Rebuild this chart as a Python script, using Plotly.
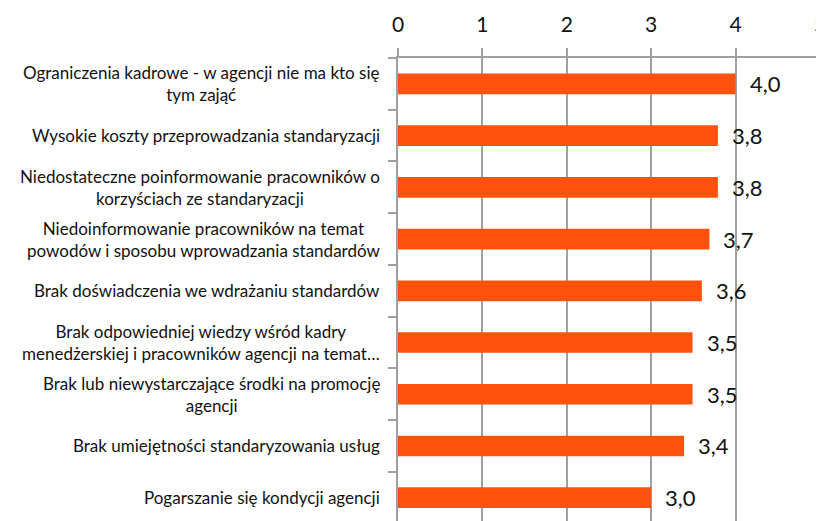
import plotly.graph_objects as go

# Bariery standaryzacji - srednie oceny
categories = [
    "Ograniczenia kadrowe - w agencji nie ma kto się<br>tym zająć",
    "Wysokie koszty przeprowadzania standaryzacji",
    "Niedostateczne poinformowanie pracowników o<br>korzyściach ze standaryzacji",
    "Niedoinformowanie pracowników na temat<br>powodów i sposobu wprowadzania standardów",
    "Brak doświadczenia we wdrażaniu standardów",
    "Brak odpowiedniej wiedzy wśród kadry<br>menedżerskiej i pracowników agencji na temat…",
    "Brak lub niewystarczające środki na promocję<br>agencji",
    "Brak umiejętności standaryzowania usług",
    "Pogarszanie się kondycji agencji",
]
values = [4.0, 3.79, 3.79, 3.69, 3.6, 3.49, 3.49, 3.39, 3.0]
tick_vals = [0, 1, 2, 3, 4, 5]

ids = list(range(len(categories)))
font = "Lato"

fig = go.Figure()
fig.add_trace(go.Bar(
    x=values,
    y=ids,
    orientation="h",
    width=0.4,
    marker=dict(color="#FF520F", line=dict(width=0)),
))

# category labels as annotations so multi-line text is centred
for i, c in enumerate(categories):
    fig.add_annotation(
        x=0, xref="paper", y=i, yref="y",
        text=c, showarrow=False,
        xanchor="right", yanchor="middle", align="center",
        xshift=-16,
        font=dict(size=17, color="#111111", family=font),
    )

# value labels, decimal comma
for i, v in enumerate(values):
    fig.add_annotation(
        x=v, y=i, xref="x", yref="y",
        text=f"{v:.1f}".replace(".", ","), showarrow=False,
        xanchor="left", yanchor="middle", xshift=12,
        font=dict(size=22, color="#111111", family=font),
    )

# page body has an 8px margin, so the figure is 8px smaller than the window
fig.update_layout(
    template="none",
    width=816, height=513,
    margin=dict(l=390, r=4, t=50, b=0, autoexpand=False),
    paper_bgcolor="white", plot_bgcolor="white",
    showlegend=False,
)
fig.update_xaxes(
    side="top", range=[0, 5], tickvals=tick_vals,
    showgrid=True, gridcolor="#A0A0A0", gridwidth=2,
    showline=True, linecolor="#A0A0A0", linewidth=2,
    ticks="outside", ticklen=8, tickcolor="#A0A0A0", tickwidth=2,
    tickfont=dict(size=21, color="#111111", family=font),
    ticklabelstandoff=8, ticklabeloverflow="allow",
    zeroline=False, automargin=False, layer="below traces",
)
fig.update_yaxes(
    range=[8.45, -0.5], tickvals=[i + 0.5 for i in ids[:-1]] + [-0.5],
    showticklabels=False,
    showline=True, linecolor="#A0A0A0", linewidth=2,
    ticks="outside", ticklen=8, tickcolor="#A0A0A0", tickwidth=2,
    showgrid=False, zeroline=False, automargin=False,
)

fig.write_html("out.html")
